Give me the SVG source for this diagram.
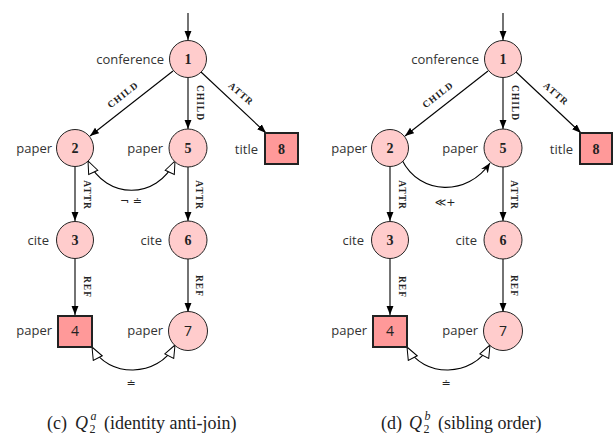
<svg xmlns="http://www.w3.org/2000/svg" width="613" height="445" viewBox="0 0 613 445">
<style>
.c{fill:#ffcccc;stroke:#222;stroke-width:1}
.s{fill:#ff9999;stroke:#222;stroke-width:2}
.e{stroke:#000;stroke-width:1.1;fill:none}
.lab{font-family:"Open Sans",sans-serif;font-size:13px;fill:#333;text-anchor:end}
.num{font-family:"Liberation Serif",serif;font-size:14px;font-weight:bold;fill:#222;text-anchor:middle}
.nums{font-family:"Open Sans",sans-serif;font-size:14px;fill:#222;text-anchor:middle}
.el{font-family:"Liberation Serif",serif;font-size:9.5px;font-weight:bold;letter-spacing:1px;fill:#222;text-anchor:middle}
.sym{font-family:"DejaVu Sans",sans-serif;font-size:11px;fill:#222;text-anchor:middle}
.cap{font-family:"Liberation Serif",serif;font-size:18px;fill:#222}
.capi{font-style:italic}
.capsm{font-size:12px}
</style>
<defs>
<marker id="ah" viewBox="0 0 10 10" refX="10" refY="5" markerWidth="9" markerHeight="9" markerUnits="userSpaceOnUse" orient="auto"><path d="M0,1.2 L10,5 L0,8.8 z" fill="#000"/></marker>
<marker id="st" viewBox="0 0 10 10" refX="10" refY="5" markerWidth="10" markerHeight="10" markerUnits="userSpaceOnUse" orient="auto"><path d="M0,1 L10,5 L0,9 L3,5 z" fill="#000"/></marker>
<marker id="op" viewBox="0 0 14 12" refX="13.5" refY="6" markerWidth="14" markerHeight="12" markerUnits="userSpaceOnUse" orient="auto-start-reverse"><path d="M1,1 L13.5,6 L1,11 z" fill="#fff" stroke="#000" stroke-width="1"/></marker>
</defs>

<g id="connectors">
<!-- left panel -->
<line class="e" x1="188" y1="13" x2="188" y2="40" marker-end="url(#ah)"/>
<line class="e" x1="173" y1="71" x2="90" y2="136" marker-end="url(#ah)"/>
<line class="e" x1="188" y1="78" x2="188" y2="129" marker-end="url(#ah)"/>
<line class="e" x1="201" y1="72" x2="266" y2="133" marker-end="url(#ah)"/>
<line class="e" x1="75" y1="167" x2="75" y2="221" marker-end="url(#ah)"/>
<line class="e" x1="188" y1="167" x2="188" y2="221" marker-end="url(#ah)"/>
<line class="e" x1="75" y1="259" x2="75" y2="315" marker-end="url(#ah)"/>
<line class="e" x1="188" y1="259" x2="188" y2="312" marker-end="url(#ah)"/>
<path class="e" d="M88,161 C106,200 157,200 175,161" marker-start="url(#op)" marker-end="url(#op)"/>
<path class="e" d="M92,347 C108,378 158,378 175,345" marker-start="url(#op)" marker-end="url(#op)"/>
<!-- right panel -->
<line class="e" x1="503" y1="13" x2="503" y2="40" marker-end="url(#ah)"/>
<line class="e" x1="488" y1="71" x2="405" y2="136" marker-end="url(#ah)"/>
<line class="e" x1="503" y1="78" x2="503" y2="129" marker-end="url(#ah)"/>
<line class="e" x1="516" y1="72" x2="581" y2="133" marker-end="url(#ah)"/>
<line class="e" x1="390" y1="167" x2="390" y2="221" marker-end="url(#ah)"/>
<line class="e" x1="503" y1="167" x2="503" y2="221" marker-end="url(#ah)"/>
<line class="e" x1="390" y1="259" x2="390" y2="315" marker-end="url(#ah)"/>
<line class="e" x1="503" y1="259" x2="503" y2="312" marker-end="url(#ah)"/>
<path class="e" d="M402,160 C420,196 468,196 490,163" marker-end="url(#st)"/>
<path class="e" d="M407,347 C423,378 473,378 490,345" marker-start="url(#op)" marker-end="url(#op)"/>

<!-- edge labels -->
<text class="el" transform="translate(123,95) rotate(-38)" dy="3">CHILD</text>
<text class="el" transform="translate(200,103) rotate(90)" dy="3">CHILD</text>
<text class="el" transform="translate(241,94) rotate(41)" dy="3">ATTR</text>
<text class="el" transform="translate(87,195) rotate(90)" dy="3">ATTR</text>
<text class="el" transform="translate(199,195) rotate(90)" dy="3">ATTR</text>
<text class="el" transform="translate(87,287) rotate(90)" dy="3">REF</text>
<text class="el" transform="translate(199,286) rotate(90)" dy="3">REF</text>
<text class="el" transform="translate(438,95) rotate(-38)" dy="3">CHILD</text>
<text class="el" transform="translate(515,103) rotate(90)" dy="3">CHILD</text>
<text class="el" transform="translate(556,94) rotate(41)" dy="3">ATTR</text>
<text class="el" transform="translate(402,195) rotate(90)" dy="3">ATTR</text>
<text class="el" transform="translate(514,195) rotate(90)" dy="3">ATTR</text>
<text class="el" transform="translate(402,287) rotate(90)" dy="3">REF</text>
<text class="el" transform="translate(514,286) rotate(90)" dy="3">REF</text>
<text class="sym" x="131" y="205">¬ ≐</text>
<text class="sym" x="131" y="387">≐</text>
<text class="sym" x="445" y="206">≪+</text>
<text class="sym" x="446" y="387">≐</text>
</g>

<!-- left panel nodes -->
<g id="a1"><circle class="c" cx="188" cy="59" r="18.5"/><text class="num" x="188" y="64">1</text><text class="lab" x="164" y="64">conference</text></g>
<g id="a2"><circle class="c" cx="75" cy="148" r="18.5"/><text class="num" x="75" y="153">2</text><text class="lab" x="52" y="153">paper</text></g>
<g id="a5"><circle class="c" cx="188" cy="148" r="19"/><text class="num" x="188" y="153">5</text><text class="lab" x="163" y="153">paper</text></g>
<g id="a8"><rect class="s" x="265" y="133" width="33" height="31"/><text class="num" x="281.5" y="154">8</text><text class="lab" x="258" y="154">title</text></g>
<g id="a3"><circle class="c" cx="75" cy="240" r="18.5"/><text class="num" x="75" y="245">3</text><text class="lab" x="49" y="245">cite</text></g>
<g id="a6"><circle class="c" cx="188" cy="240" r="19"/><text class="num" x="188" y="245">6</text><text class="lab" x="162" y="245">cite</text></g>
<g id="a4"><rect class="s" x="58" y="316" width="34" height="31"/><text class="nums" x="75" y="336">4</text><text class="lab" x="52" y="335">paper</text></g>
<g id="a7"><circle class="c" cx="188" cy="331" r="19.5"/><text class="nums" x="188" y="336">7</text><text class="lab" x="163" y="335">paper</text></g>

<!-- right panel nodes -->
<g id="b1"><circle class="c" cx="503" cy="59" r="18.5"/><text class="num" x="503" y="64">1</text><text class="lab" x="479" y="64">conference</text></g>
<g id="b2"><circle class="c" cx="390" cy="148" r="18.5"/><text class="num" x="390" y="153">2</text><text class="lab" x="367" y="153">paper</text></g>
<g id="b5"><circle class="c" cx="503" cy="148" r="19"/><text class="num" x="503" y="153">5</text><text class="lab" x="478" y="153">paper</text></g>
<g id="b8"><rect class="s" x="580" y="133" width="32" height="31"/><text class="num" x="596" y="154">8</text><text class="lab" x="573" y="154">title</text></g>
<g id="b3"><circle class="c" cx="390" cy="240" r="18.5"/><text class="num" x="390" y="245">3</text><text class="lab" x="364" y="245">cite</text></g>
<g id="b6"><circle class="c" cx="503" cy="240" r="19"/><text class="num" x="503" y="245">6</text><text class="lab" x="477" y="245">cite</text></g>
<g id="b4"><rect class="s" x="373" y="316" width="34" height="31"/><text class="nums" x="390" y="336">4</text><text class="lab" x="367" y="335">paper</text></g>
<g id="b7"><circle class="c" cx="503" cy="331" r="19.5"/><text class="nums" x="503" y="336">7</text><text class="lab" x="478" y="335">paper</text></g>

<!-- captions -->
<text class="cap" y="429"><tspan x="47">(c)</tspan><tspan class="capi" x="75">Q</tspan><tspan class="capsm" x="89.5" dy="4">2</tspan><tspan class="capsm capi" x="90.5" dy="-13">a</tspan><tspan x="104" dy="9">(identity anti-join)</tspan></text>
<text class="cap" y="429"><tspan x="381">(d)</tspan><tspan class="capi" x="409">Q</tspan><tspan class="capsm" x="423.5" dy="4">2</tspan><tspan class="capsm capi" x="424.5" dy="-13">b</tspan><tspan x="438" dy="9">(sibling order)</tspan></text>
</svg>
